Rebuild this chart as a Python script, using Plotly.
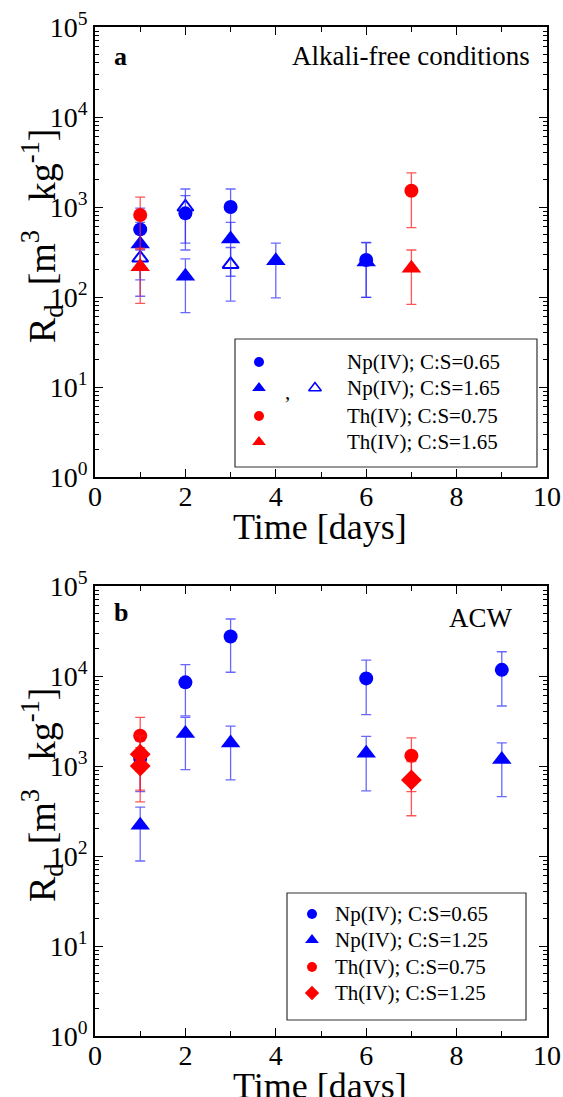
import plotly.graph_objects as go

# ---------------- data ----------------
# Panel a: Alkali-free conditions
a_np065_x = [1, 2, 3, 6]
a_np065_y = [564, 850, 1000, 258]
a_np065_hi = [973, 1340, 1585, 405]
a_np065_lo = [155, 333, 415, 99]

a_np165_x = [1, 2, 3, 4, 6]
a_np165_y = [389, 170, 440, 253, 245]
a_np165_hi = [676, 265, 676, 397, 400]
a_np165_lo = [102, 67, 170, 98, 99]

a_np165o_x = [1, 2, 3]
a_np165o_y = [271, 1000, 230]
a_np165o_hi = [333, 1585, 355]
a_np165o_lo = [210, 397, 90]

a_th075_x = [1, 7]
a_th075_y = [815, 1517]
a_th075_hi = [1290, 2400]
a_th075_lo = [340, 590]

a_th165_x = [1, 7]
a_th165_y = [217, 208]
a_th165_hi = [349, 333]
a_th165_lo = [85, 83]

# Panel b: ACW
b_np065_x = [1, 2, 3, 6, 9]
b_np065_y = [1200, 8500, 27500, 9400, 11700]
b_np065_hi = [1900, 13400, 43000, 15000, 18600]
b_np065_lo = [520, 3600, 11000, 3730, 4640]

b_np125_x = [1, 2, 3, 6, 9]
b_np125_y = [220, 2300, 1800, 1390, 1180]
b_np125_hi = [350, 3470, 2770, 2130, 1810]
b_np125_lo = [88, 910, 700, 530, 457]

b_th075_x = [1, 7]
b_th075_y = [2170, 1300]
b_th075_hi = [3470, 2050]
b_th075_lo = [870, 520]

b_th125_x = [1, 1, 7]
b_th125_y = [1350, 1000, 700]
b_th125_hi = [2160, 1600, 1120]
b_th125_lo = [540, 400, 280]

x_ticks = [0, 2, 4, 6, 8, 10]
y_tickvals = [1, 10, 100, 1000, 10000, 100000]
y_ticktext = ["10<sup>0</sup>", "10<sup>1</sup>", "10<sup>2</sup>",
              "10<sup>3</sup>", "10<sup>4</sup>", "10<sup>5</sup>"]

legend_a = ["Np(IV); C:S=0.65", "Np(IV); C:S=1.65", "Th(IV); C:S=0.75", "Th(IV); C:S=1.65"]
legend_b = ["Np(IV); C:S=0.65", "Np(IV); C:S=1.25", "Th(IV); C:S=0.75", "Th(IV); C:S=1.25"]

# ---------------- layout geometry ----------------
W, H = 563, 1097
L, R, T, B = 95, 16, 27, 61
PW = W - L - R
PH = H - T - B
FONT = "Liberation Serif, Times New Roman, serif"
BLUE = "#0000FF"
RED = "#FF0000"
EBLUE = "rgba(40,40,255,0.7)"
ERED = "rgba(255,30,30,0.75)"


def px(x):
    return (x - L) / PW


def py(y):
    return (H - B - y) / PH


fig = go.Figure()


def add(xs, ys, hi, lo, sym, color, ecolor, size, xa, ya, fill=None, lw=0):
    fig.add_trace(go.Scatter(
        x=xs, y=ys, mode="markers", xaxis=xa, yaxis=ya, showlegend=False,
        marker=dict(symbol=sym, size=size, color=fill or color,
                    line=dict(color=color, width=lw)),
        error_y=dict(type="data", symmetric=False,
                     array=[h - v for h, v in zip(hi, ys)],
                     arrayminus=[v - l for v, l in zip(ys, lo)],
                     color=ecolor, thickness=1.3, width=5),
    ))


# panel a
add(a_np165o_x, a_np165o_y, a_np165o_hi, a_np165o_lo, "triangle-up", BLUE, EBLUE, 14, "x", "y", fill="white", lw=2)
add(a_np065_x, a_np065_y, a_np065_hi, a_np065_lo, "circle", BLUE, EBLUE, 14, "x", "y")
add(a_np165_x, a_np165_y, a_np165_hi, a_np165_lo, "triangle-up", BLUE, EBLUE, 17, "x", "y")
add(a_th075_x, a_th075_y, a_th075_hi, a_th075_lo, "circle", RED, ERED, 14, "x", "y")
add(a_th165_x, a_th165_y, a_th165_hi, a_th165_lo, "triangle-up", RED, ERED, 17, "x", "y")

# panel b
add(b_np065_x, b_np065_y, b_np065_hi, b_np065_lo, "circle", BLUE, EBLUE, 14, "x2", "y2")
add(b_np125_x, b_np125_y, b_np125_hi, b_np125_lo, "triangle-up", BLUE, EBLUE, 17, "x2", "y2")
add(b_th075_x, b_th075_y, b_th075_hi, b_th075_lo, "circle", RED, ERED, 14, "x2", "y2")
add(b_th125_x, b_th125_y, b_th125_hi, b_th125_lo, "diamond", RED, ERED, 16, "x2", "y2")

# legend glyphs on a pixel-coordinate overlay axis
leg_a_rows = [362, 388, 416, 442]
leg_b_rows = [914, 940, 967, 993]
glyphs = [
    (259, leg_a_rows[0], "circle", BLUE, BLUE, 10, 0),
    (259, leg_a_rows[1], "triangle-up", BLUE, BLUE, 12, 0),
    (315, leg_a_rows[1], "triangle-up", BLUE, "white", 11, 1.6),
    (259, leg_a_rows[2], "circle", RED, RED, 10, 0),
    (259, leg_a_rows[3], "triangle-up", RED, RED, 12, 0),
    (312, leg_b_rows[0], "circle", BLUE, BLUE, 10, 0),
    (312, leg_b_rows[1], "triangle-up", BLUE, BLUE, 12, 0),
    (312, leg_b_rows[2], "circle", RED, RED, 10, 0),
    (312, leg_b_rows[3], "diamond", RED, RED, 11, 0),
]
for gx, gy, sym, c, f, s, lw in glyphs:
    fig.add_trace(go.Scatter(x=[gx], y=[gy], mode="markers", xaxis="x3", yaxis="y3",
                             showlegend=False, hoverinfo="skip",
                             marker=dict(symbol=sym, size=s, color=f, line=dict(color=c, width=lw))))

axis_common = dict(
    showline=True, linecolor="black", linewidth=1.5, mirror="allticks",
    ticks="inside", tickcolor="black", tickwidth=1.2, showgrid=False, zeroline=False,
    tickfont=dict(family=FONT, size=28, color="black"),
)
xcommon = dict(axis_common, range=[0, 10], tickvals=x_ticks, ticklen=8,
               minor=dict(ticks="inside", dtick=1, ticklen=5, tickcolor="black", tickwidth=1.2),
               ticklabelstandoff=-6)
ycommon = dict(axis_common, type="log", range=[0, 5], tickvals=y_tickvals, ticktext=y_ticktext,
               ticklen=8,
               minor=dict(ticks="inside", dtick="D1", ticklen=4, tickcolor="black", tickwidth=1.1))

dom_a = [py(477), 1]
dom_b = [0, py(586)]

annotations = []


def text(x, y, s, size, xanchor="center", yanchor="middle", angle=0, bold=False):
    annotations.append(dict(
        x=px(x), y=py(y), xref="paper", yref="paper", text=f"<b>{s}</b>" if bold else s,
        showarrow=False, xanchor=xanchor, yanchor=yanchor, textangle=angle,
        font=dict(family=FONT, size=size, color="black")))


NB = "\u00a0"
ytitle = f"R<sub>d</sub>{NB * 2}[m<sup>3</sup>{NB * 3}kg<sup>-1</sup>]"
text(42, 236, ytitle, 38, angle=-90)
text(42, 795, ytitle, 38, angle=-90)
text(320, 527, "Time [days]", 36)
text(320, 1086, "Time [days]", 36)
text(112, 56, "a", 26, xanchor="left", bold=True)
text(112, 612, "b", 26, xanchor="left", bold=True)
text(532, 56, "Alkali-free conditions", 27, xanchor="right")
text(515, 618, "ACW", 27, xanchor="right")
for i, s in enumerate(legend_a):
    text(345, leg_a_rows[i], s, 21, xanchor="left")
for i, s in enumerate(legend_b):
    text(333, leg_b_rows[i], s, 21, xanchor="left")
text(287, 392, ",", 21)

shapes = [
    dict(type="rect", xref="paper", yref="paper", x0=px(235), x1=px(537), y0=py(467), y1=py(339),
         line=dict(color="#333333", width=1.2), layer="above"),
    dict(type="rect", xref="paper", yref="paper", x0=px(287), x1=px(526), y0=py(1020), y1=py(893),
         line=dict(color="#333333", width=1.2), layer="above"),
]

fig.update_layout(
    width=W, height=H, margin=dict(l=L, r=R, t=T, b=B, autoexpand=False),
    paper_bgcolor="white", plot_bgcolor="rgba(0,0,0,0)", showlegend=False,
    xaxis=dict(xcommon, domain=[0, 1], anchor="y"),
    yaxis=dict(ycommon, domain=dom_a, anchor="x"),
    xaxis2=dict(xcommon, domain=[0, 1], anchor="y2"),
    yaxis2=dict(ycommon, domain=dom_b, anchor="x2"),
    xaxis3=dict(domain=[0, 1], range=[L, W - R], visible=False, anchor="y3", fixedrange=True),
    yaxis3=dict(domain=[0, 1], range=[H - B, T], visible=False, anchor="x3", fixedrange=True),
    annotations=annotations, shapes=shapes,
)

fig.write_html("out.html")
